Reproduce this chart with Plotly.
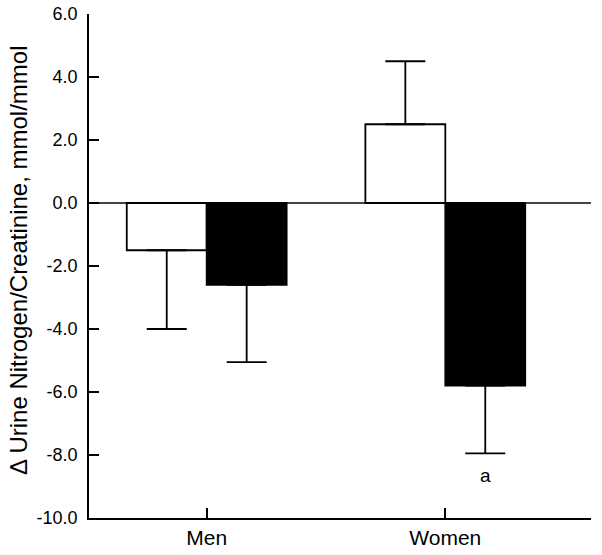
import plotly.graph_objects as go

groups = ["Men", "Women"]
white_vals = [-1.5, 2.5]
white_err = [2.5, 2.0]
black_vals = [-2.6, -5.8]
black_err = [2.45, 2.15]
y_ticks = [6, 4, 2, 0, -2, -4, -6, -8, -10]
y_tick_labels = ["6.0", "4.0", "2.0", "0.0", "-2.0", "-4.0", "-6.0", "-8.0", "-10.0"]
y_title = "\u0394 Urine Nitrogen/Creatinine, mmol/mmol"
sig_label = "a"

FONT = "Liberation Sans, Arial, sans-serif"


def split_err(vals, errs):
    plus = [e if v >= 0 else 0 for v, e in zip(vals, errs)]
    minus = [e if v < 0 else 0 for v, e in zip(vals, errs)]
    return plus, minus


wp, wm = split_err(white_vals, white_err)
bp, bm = split_err(black_vals, black_err)

fig = go.Figure()
fig.add_trace(go.Bar(
    x=groups, y=white_vals,
    marker=dict(color="white", line=dict(color="black", width=1.8)),
    error_y=dict(type="data", symmetric=False, array=wp, arrayminus=wm,
                 color="black", thickness=1.8, width=20),
    showlegend=False,
))
fig.add_trace(go.Bar(
    x=groups, y=black_vals,
    marker=dict(color="black", line=dict(color="black", width=1.8)),
    error_y=dict(type="data", symmetric=False, array=bp, arrayminus=bm,
                 color="black", thickness=1.8, width=20),
    showlegend=False,
))

fig.add_annotation(x=1.1676, y=-8.65, text=sig_label, showarrow=False,
                   xref="x", yref="y", xanchor="center", yanchor="middle",
                   font=dict(family=FONT, size=19, color="black"))

fig.add_annotation(x=-0.1394, y=0.512, xref="paper", yref="paper",
                   text=y_title, textangle=-90, showarrow=False,
                   xanchor="center", yanchor="middle",
                   font=dict(family=FONT, size=24, color="black"))

fig.update_layout(
    width=602, height=555,
    margin=dict(l=89, r=11, t=14, b=37, autoexpand=False),
    paper_bgcolor="white", plot_bgcolor="white",
    barmode="group", bargap=0.33, bargroupgap=0,
    font=dict(family=FONT, color="black"),
)
fig.update_xaxes(
    range=[-0.4933, 1.6106], automargin=False,
    showline=True, linecolor="black", linewidth=1.8,
    ticks="inside", ticklen=10, tickwidth=1.8, tickcolor="black",
    showgrid=False, zeroline=False,
    tickfont=dict(family=FONT, size=21, color="black"),
)
fig.update_yaxes(
    range=[-10, 6], tickvals=y_ticks, ticktext=y_tick_labels, automargin=False,
    showline=True, linecolor="black", linewidth=1.8,
    ticks="inside", ticklen=10, tickwidth=1.8, tickcolor="black",
    showgrid=False,
    zeroline=True, zerolinecolor="#444444", zerolinewidth=2,
    tickfont=dict(family=FONT, size=18, color="black"),
    ticklabelstandoff=6,
)

fig.write_html("out.html", config={"displayModeBar": False},
               post_script="document.body.style.margin='0';document.body.style.padding='0';")
